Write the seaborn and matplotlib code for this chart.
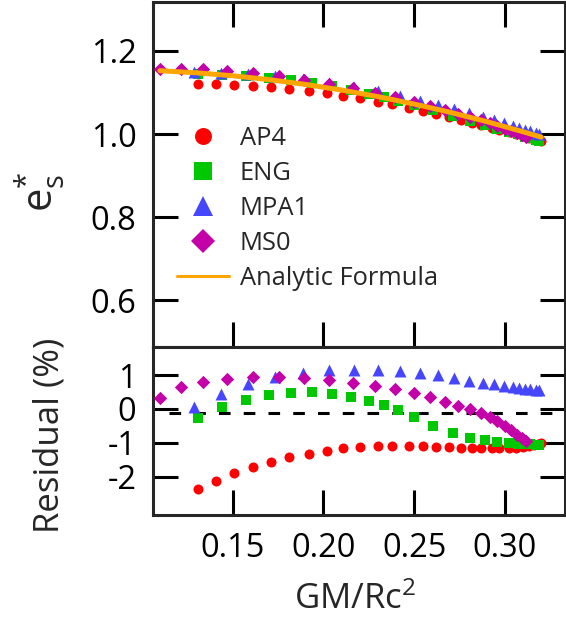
import matplotlib
matplotlib.use("Agg")
import matplotlib.pyplot as plt
from matplotlib.lines import Line2D
import seaborn as sns
import pandas as pd

# ---------------- data ----------------
# compactness GM/Rc^2 and normalised quantity e_s* for each equation of state
ap4_x = [0.131, 0.141, 0.151, 0.161, 0.171, 0.181, 0.192, 0.202, 0.211, 0.220,
         0.230, 0.238, 0.247, 0.255, 0.262, 0.269, 0.276, 0.282, 0.287, 0.293,
         0.297, 0.302, 0.306, 0.310, 0.313, 0.316, 0.318, 0.320]
ap4_e = [1.1200, 1.1195, 1.1183, 1.1160, 1.1130, 1.1091, 1.1036, 1.0980, 1.0925, 1.0861,
         1.0782, 1.0715, 1.0634, 1.0558, 1.0487, 1.0413, 1.0338, 1.0272, 1.0214, 1.0145,
         1.0097, 1.0038, 0.9991, 0.9942, 0.9907, 0.9871, 0.9849, 0.9826]
ap4_res = [-2.37, -2.13, -1.90, -1.72, -1.56, -1.42, -1.32, -1.23, -1.16, -1.12,
           -1.10, -1.09, -1.09, -1.10, -1.11, -1.13, -1.14, -1.15, -1.16, -1.16,
           -1.16, -1.15, -1.14, -1.12, -1.10, -1.07, -1.04, -1.00]

eng_x = [0.1312, 0.1443, 0.1572, 0.1701, 0.1824, 0.1940, 0.2050, 0.2154, 0.2251, 0.2334,
         0.2413, 0.2499, 0.2606, 0.2713, 0.2808, 0.2889, 0.2956, 0.3020, 0.3070, 0.311,
         0.314, 0.317, 0.319]
eng_e = [1.1442, 1.1433, 1.1404, 1.1356, 1.1295, 1.1226, 1.1146, 1.1058, 1.0969, 1.0885,
         1.0800, 1.0698, 1.0567, 1.0433, 1.0316, 1.0217, 1.0133, 1.0053, 0.9990, 0.9939,
         0.9900, 0.9859, 0.9834]
eng_res = [-0.26, 0.06, 0.27, 0.41, 0.47, 0.49, 0.45, 0.35, 0.24, 0.11,
           -0.04, -0.24, -0.49, -0.71, -0.85, -0.92, -0.98, -1.00, -1.02, -1.03,
           -1.04, -1.05, -1.05]

mpa1_x = [0.1290, 0.1434, 0.1585, 0.1732, 0.1886, 0.2032, 0.2168, 0.2301, 0.2420, 0.2531,
          0.2629, 0.2720, 0.2803, 0.2877, 0.2941, 0.2996, 0.3046, 0.3079, 0.311, 0.314,
          0.317, 0.319]
mpa1_e = [1.1484, 1.1480, 1.1451, 1.1399, 1.1324, 1.1236, 1.1137, 1.1025, 1.0917, 1.0806,
          1.0701, 1.0596, 1.0497, 1.0407, 1.0327, 1.0255, 1.0190, 1.0144, 1.0102, 1.0062,
          1.0020, 0.9993]
mpa1_res = [0.05, 0.44, 0.74, 0.93, 1.06, 1.14, 1.16, 1.14, 1.11, 1.06,
            0.99, 0.91, 0.84, 0.78, 0.74, 0.69, 0.66, 0.62, 0.60, 0.58,
            0.56, 0.55]

ms0_x = [0.1101, 0.1215, 0.1340, 0.1472, 0.1610, 0.1754, 0.1892, 0.2030, 0.2165, 0.2285,
         0.2396, 0.2497, 0.2589, 0.2672, 0.2742, 0.2810, 0.2867, 0.2917, 0.2959, 0.2999,
         0.3032, 0.3064, 0.3092, 0.3118]
ms0_e = [1.1562, 1.1573, 1.1556, 1.1517, 1.1461, 1.1388, 1.1303, 1.1206, 1.1097, 1.0990,
         1.0883, 1.0776, 1.0672, 1.0573, 1.0487, 1.0402, 1.0326, 1.0254, 1.0192, 1.0131,
         1.0077, 1.0024, 0.9975, 0.9925]
ms0_res = [0.32, 0.64, 0.81, 0.89, 0.93, 0.94, 0.91, 0.86, 0.78, 0.69,
           0.59, 0.47, 0.34, 0.21, 0.10, 0.00, -0.12, -0.24, -0.36, -0.49,
           -0.63, -0.76, -0.86, -0.95]

fit_x = [0.11, 0.13, 0.15, 0.17, 0.19, 0.21, 0.23, 0.25, 0.27, 0.29, 0.31, 0.32]
fit_e = [1.1525, 1.1475, 1.1404, 1.1311, 1.1196, 1.1060, 1.0902, 1.0723, 1.0522,
         1.0299, 1.0055, 0.9925]

ref_level = -0.12
ref_span = (0.115, 0.328)

x_ticks = [0.15, 0.20, 0.25, 0.30]
x_ticklabels = ["0.15", "0.20", "0.25", "0.30"]
top_ticks = [0.6, 0.8, 1.0, 1.2]
top_ticklabels = ["0.6", "0.8", "1.0", "1.2"]
bot_ticks = [-2, -1, 0, 1]
bot_ticklabels = ["-2", "-1", "0", "1"]

series_names = ["AP4", "ENG", "MPA1", "MS0"]

# ---------------- style ----------------
sns.set_style("ticks")
plt.rcParams["font.family"] = ["Open Sans", "DejaVu Sans"]
plt.rcParams["mathtext.fontset"] = "custom"
plt.rcParams["mathtext.rm"] = "Open Sans"
plt.rcParams["mathtext.it"] = "Open Sans"

colors = {"AP4": "#ff0000", "ENG": "#00c800", "MPA1": "#4646ff", "MS0": "#c400a8"}
markers = {"AP4": "o", "ENG": "s", "MPA1": "^", "MS0": "D"}
sizes = {"AP4": 7.2, "ENG": 7.2, "MPA1": 8.6, "MS0": 6.8}       # points
leg_sizes = {"AP4": 12.2, "ENG": 12.8, "MPA1": 14.0, "MS0": 12.6}
fit_color = "#ffa500"

W, H = 566, 630
fig = plt.figure(figsize=(W / 100, H / 100), dpi=100)
ax_top = fig.add_axes([153 / W, 1 - 347 / H, 412 / W, 345 / H])
ax_bot = fig.add_axes([153 / W, 1 - 515 / H, 412 / W, 168 / H], sharex=ax_top)

frames = {
    "AP4": pd.DataFrame({"x": ap4_x, "e": ap4_e, "r": ap4_res}),
    "ENG": pd.DataFrame({"x": eng_x, "e": eng_e, "r": eng_res}),
    "MPA1": pd.DataFrame({"x": mpa1_x, "e": mpa1_e, "r": mpa1_res}),
    "MS0": pd.DataFrame({"x": ms0_x, "e": ms0_e, "r": ms0_res}),
}

# upper panel: e_s* against compactness
for name in series_names:
    df = frames[name]
    sns.scatterplot(data=df, x="x", y="e", ax=ax_top, color=colors[name],
                    marker=markers[name], s=sizes[name] ** 2, linewidth=0,
                    legend=False, zorder=3)
fit_df = pd.DataFrame({"x": fit_x, "e": fit_e})
sns.lineplot(data=fit_df, x="x", y="e", ax=ax_top, color=fit_color, lw=3.6,
             zorder=4, legend=False)

# lower panel: relative residual in percent
ax_bot.hlines(ref_level, ref_span[0], ref_span[1], colors="black", lw=2.2,
              linestyles=(0, (3.8, 4.3)), zorder=2)
for name in series_names:
    df = frames[name]
    sns.scatterplot(data=df, x="x", y="r", ax=ax_bot, color=colors[name],
                    marker=markers[name], s=sizes[name] ** 2, linewidth=0,
                    legend=False, zorder=3)

# legend
handles = [Line2D([], [], ls="none", marker=markers[n], color=colors[n],
                  markersize=leg_sizes[n], markeredgewidth=0) for n in series_names]
handles.append(Line2D([], [], color=fit_color, lw=2.2))
labels = series_names + ["Analytic Formula"]
ax_top.legend(handles, labels, loc="upper left", bbox_to_anchor=(0.0575, 0.641),
              frameon=False, fontsize=18.4, handlelength=2.03, handletextpad=0.43,
              labelspacing=0.39, borderpad=0, borderaxespad=0)

# axes cosmetics
ax_top.set_xlim(0.1062, 0.3331)
ax_top.set_ylim(0.487, 1.318)
ax_bot.set_ylim(-3.13, 1.83)

for ax in (ax_top, ax_bot):
    for sp in ax.spines.values():
        sp.set_linewidth(2.2)
        sp.set_visible(True)
    ax.tick_params(direction="in", length=18, width=2.2, labelsize=23.5, pad=12,
                   color="black", labelcolor="black")

ax_top.tick_params(top=True, right=True, bottom=True, left=True,
                   labelbottom=False)
ax_bot.tick_params(top=False, right=True, bottom=True, left=True)

ax_bot.set_xticks(x_ticks)
ax_bot.set_xticklabels(x_ticklabels)
ax_top.set_yticks(top_ticks)
ax_top.set_yticklabels(top_ticklabels)
ax_bot.set_yticks(bot_ticks)
ax_bot.set_yticklabels(bot_ticklabels)

ax_top.set_xlabel("")
ax_top.set_ylabel(r"e$_\mathregular{s}^\mathregular{*}$", fontsize=30)
ax_top.yaxis.set_label_coords(-0.21, 0.45)
ax_bot.set_ylabel("Residual (%)", fontsize=25)
ax_bot.yaxis.set_label_coords(-0.21, 0.476)
ax_bot.set_xlabel(r"GM/Rc$^\mathregular{2}$", fontsize=25)
ax_bot.xaxis.set_label_coords(0.49, -0.40)

fig.savefig("out.png", dpi=100)
